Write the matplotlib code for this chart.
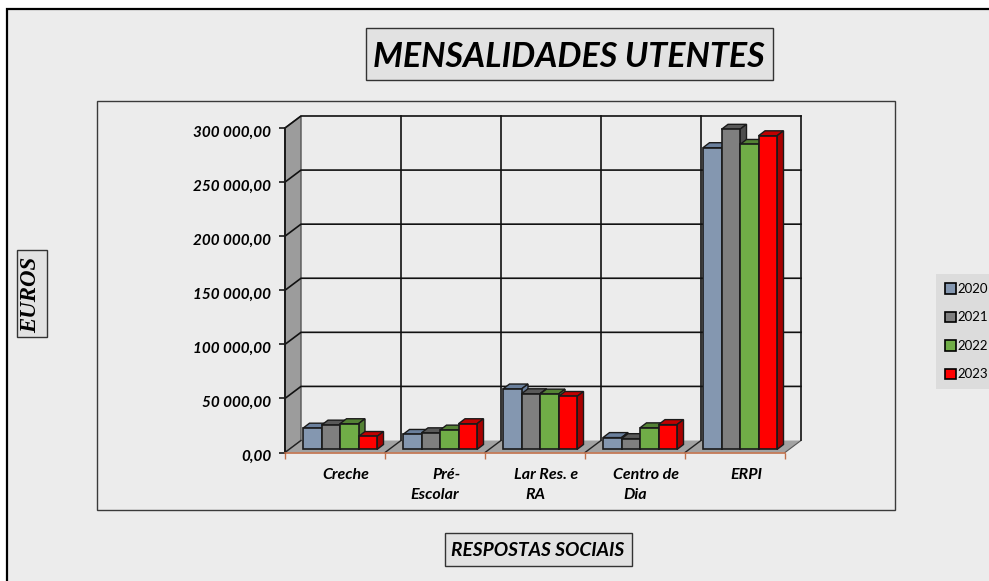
import matplotlib
matplotlib.use("Agg")
import matplotlib.pyplot as plt
from matplotlib.patches import Patch, Polygon, Rectangle
from matplotlib.transforms import ScaledTranslation

categories = ["Creche", "Pré-\nEscolar", "Lar Res. e\nRA", "Centro de\nDia", "ERPI"]
years = ["2020", "2021", "2022", "2023"]
v2020 = [19700, 13900, 55900, 11000, 279000]
v2021 = [22500, 15400, 51500, 10000, 296000]
v2022 = [23800, 17900, 51200, 20000, 282000]
v2023 = [12000, 23800, 49000, 23000, 290000]
series = [v2020, v2021, v2022, v2023]
y_ticks = [0, 50000, 100000, 150000, 200000, 250000, 300000]
y_labels = ["0,00", "50 000,00", "100 000,00", "150 000,00", "200 000,00", "250 000,00", "300 000,00"]

face_colors = ["#8497b0", "#7f7f7f", "#70ad47", "#ff0000"]
top_colors = ["#6a7f9c", "#595959", "#548235", "#c00000"]
side_colors = ["#6a7f9c", "#4d4d4d", "#548235", "#a80000"]

W, H = 989, 581
BG = "#ececec"
DARK = "#1a1a1a"

plt.rcParams["font.family"] = ["Lato", "DejaVu Sans"]

fig = plt.figure(figsize=(W / 100, H / 100), dpi=100, facecolor="white")


def fx(px):
    return px / W


def fy(py):
    return 1 - py / H


def px_box(x0, y0, x1, y1, fc, ec, lw=1.0):
    r = Rectangle((fx(x0), fy(y1)), (x1 - x0) / W, (y1 - y0) / H, transform=fig.transFigure,
                  facecolor=fc, edgecolor=ec, linewidth=lw, clip_on=False, zorder=-5)
    fig.add_artist(r)


# outer panel and the inner chart box
px_box(7, 9, W + 5, H + 5, BG, "black", 1.6)
px_box(97, 101, 895, 510, BG, "#3a3a3a", 1.0)

# title boxes
px_box(366, 28, 772.5, 80.5, "#e2e2e2", "#333333", 1.0)
fig.text(fx(568.5), fy(57), "MENSALIDADES UTENTES", fontsize=24.5, fontweight="bold", fontstyle="italic",
         ha="center", va="center", color="black")
px_box(445, 533, 631.5, 565.5, "#e2e2e2", "#333333", 1.0)
fig.text(fx(538), fy(550), "RESPOSTAS SOCIAIS", fontsize=13.8, fontweight="bold", fontstyle="italic",
         ha="center", va="center", color="black")
px_box(17, 250, 46.5, 336.5, "#e2e2e2", "#333333", 1.0)
fig.text(fx(30.5), fy(295), "EUROS", fontsize=16.5, fontweight="bold", fontstyle="italic",
         family="Liberation Serif", rotation=90, ha="center", va="center", color="black")

# axes covers the front plane of the 3d box
ax = fig.add_axes([fx(285), fy(452.5), 500 / W, 324.5 / H])
ax.set_xlim(0, 5)
ax.set_ylim(0, 300000)
ax.patch.set_visible(False)
for s in ["top", "right", "bottom"]:
    ax.spines[s].set_visible(False)
ax.spines["left"].set_linewidth(1.4)
ax.spines["left"].set_color(DARK)

DX = 0.16  # box depth
DY = 11100
ymax = 300000

# walls and floor
ax.add_patch(Polygon([(0, 0), (0, ymax), (DX, ymax + DY), (DX, DY)], facecolor="#9c9c9c", edgecolor="#555555",
                     linewidth=1.0, clip_on=False, zorder=1))
ax.add_patch(Polygon([(0, 0), (5, 0), (5 + DX, DY), (DX, DY)], facecolor="#a2a2a2", edgecolor="none",
                     clip_on=False, zorder=1))
ax.plot([5, 5 + DX], [0, DY], color="#555555", lw=0.8, clip_on=False, zorder=1)

# grid on back wall and left wall
for v in y_ticks[1:]:
    ax.plot([0, DX, 5 + DX], [v, v + DY, v + DY], color="#111111", lw=1.2, clip_on=False, zorder=2)
for i in range(1, 6):
    ax.plot([i + DX, i + DX], [DY, ymax + DY], color="#111111", lw=1.2, clip_on=False, zorder=2)
for i in range(0, 5):
    ax.plot([i, i + DX], [0, DY], color="#222222", lw=1.0, clip_on=False, zorder=2)

# bars
bar_w = 0.185
bar_start = 0.18
bar_base = 2800
bar_dx = 0.065
bar_dy = 4600
z = 3
for i in range(len(categories)):
    for j, vals in enumerate(series):
        x0 = i + bar_start + j * bar_w
        x1 = x0 + bar_w
        top = bar_base + vals[i]
        ax.add_patch(Polygon([(x0, top), (x1, top), (x1 + bar_dx, top + bar_dy), (x0 + bar_dx, top + bar_dy)],
                             facecolor=top_colors[j], edgecolor=DARK, linewidth=1.0, clip_on=False, zorder=z))
        ax.add_patch(Polygon([(x1, bar_base), (x1, top), (x1 + bar_dx, top + bar_dy), (x1 + bar_dx, bar_base + bar_dy)],
                             facecolor=side_colors[j], edgecolor=DARK, linewidth=1.0, clip_on=False, zorder=z))
        ax.bar(x0, vals[i], bar_w, bottom=bar_base, align="edge", color=face_colors[j], edgecolor=DARK,
               linewidth=1.2, clip_on=False, zorder=z + 0.5)
        z += 1

# axes ticks and labels
ax.set_yticks(y_ticks)
ax.set_yticklabels(y_labels, fontsize=11, fontweight="bold", fontstyle="italic", color="black")
ax.tick_params(axis="y", length=4, width=1.2, color=DARK, pad=6)
shift = ScaledTranslation(0, -3 / 100, fig.dpi_scale_trans)
for lab in ax.get_yticklabels():
    lab.set_transform(lab.get_transform() + shift)
ax.set_xticks(range(6))
ax.set_xticklabels([])
ax.tick_params(axis="x", length=4, width=1.0, color="#c0704a")
ax.plot([0, 5], [0, 0], color="#c0704a", lw=1.2, clip_on=False, zorder=3)

for i, name in enumerate(categories):
    parts = name.split("\n")
    ax.annotate(parts[0], (i + 0.61, 0), xytext=(0, -16), textcoords="offset points", fontsize=11.5,
                fontweight="bold", fontstyle="italic", ha="center", va="center", annotation_clip=False)
    if len(parts) > 1:
        ax.annotate(parts[1], (i + 0.5, 0), xytext=(0, -30.5), textcoords="offset points", fontsize=11.5,
                    fontweight="bold", fontstyle="italic", ha="center", va="center", annotation_clip=False)

handles = [Patch(facecolor=c, edgecolor="black", linewidth=1.2) for c in face_colors]
leg = ax.legend(handles, years, loc="upper left", bbox_to_anchor=(fx(936), fy(274)), bbox_transform=fig.transFigure,
                borderaxespad=0, frameon=True, facecolor="#dcdcdc", edgecolor="none", framealpha=1, fancybox=False,
                fontsize=9.5, handlelength=0.85, handleheight=0.85, handletextpad=0.1, labelspacing=1.25,
                borderpad=0.68)
leg.set_zorder(100)

fig.savefig("out.png", dpi=100)
